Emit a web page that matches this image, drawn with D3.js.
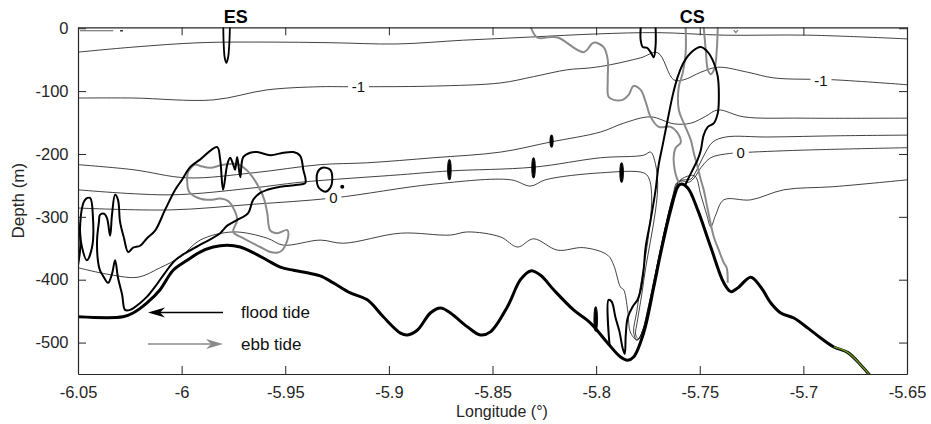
<!DOCTYPE html>
<html>
<head>
<meta charset="utf-8">
<script src="https://cdn.jsdelivr.net/npm/d3@7"></script>
<style>
  body { margin: 0; background: #fff; }
  svg { font-family: "Liberation Sans", Arial, Helvetica, sans-serif; }
</style>
</head>
<body>
<svg id="chart" width="931" height="424"></svg>
<script>
// ---- Axis ticks ----
const xTicks = [-6.05, -6, -5.95, -5.9, -5.85, -5.8, -5.75, -5.7, -5.65];
const xTickLabels = ["-6.05", "-6", "-5.95", "-5.9", "-5.85", "-5.8", "-5.75", "-5.7", "-5.65"];
const yTicks = [0, -100, -200, -300, -400, -500];
const yTickLabels = ["0", "-100", "-200", "-300", "-400", "-500"];

// ---- Sill names (longitude of each sill) ----
const sills = [
  { name: "ES", lon: -5.9739 },
  { name: "CS", lon: -5.7536 }
];

// ---- Bottom profile [lon, depth m] ----
const bathymetry = [
  [-6.0500,-459],[-6.0283,-459],[-6.0234,-453],[-6.0167,-437],[-6.0104,-416],[-6.0041,-385],
  [-5.9973,-369],[-5.9911,-356],[-5.9848,-348],[-5.9780,-345],[-5.9717,-348],[-5.9655,-357],
  [-5.9587,-369],[-5.9524,-380],[-5.9461,-385],[-5.9394,-389],[-5.9331,-394],[-5.9268,-405],
  [-5.9186,-421],[-5.9104,-432],[-5.9027,-459],[-5.8944,-485],[-5.8911,-488],[-5.8862,-480],
  [-5.8800,-453],[-5.8751,-445],[-5.8703,-453],[-5.8621,-475],[-5.8558,-488],[-5.8510,-483],
  [-5.8428,-443],[-5.8365,-400],[-5.8316,-386],[-5.8268,-393],[-5.8205,-416],[-5.8109,-448],
  [-5.8027,-469],[-5.7944,-501],[-5.7882,-523],[-5.7848,-528],[-5.7819,-523],[-5.7771,-485],
  [-5.7722,-412],[-5.7688,-357],[-5.7640,-289],[-5.7606,-252],[-5.7592,-248],[-5.7558,-254],
  [-5.7510,-289],[-5.7447,-348],[-5.7384,-405],[-5.7350,-419],[-5.7316,-413],[-5.7254,-396],
  [-5.7205,-412],[-5.7157,-437],[-5.7109,-453],[-5.7046,-461],[-5.6978,-477],[-5.6915,-493],
  [-5.6853,-507],[-5.6785,-516],[-5.6722,-536],[-5.6669,-556]
];
const greenFromLon = -5.6853;

// ---- Thin isolines [lon, depth] ----
const isoTop = [
  [-6.0500,-38],[-6.0234,-30],[-5.9911,-23],[-5.9587,-22],[-5.9283,-23],[-5.8959,-25],
  [-5.8640,-19],[-5.8316,-14],[-5.7993,-9],[-5.7703,-7],[-5.7384,-11],[-5.6978,-11],[-5.6495,-17]
];
const isoMinus1 = [
  [-6.0500,-111],[-6.0234,-111],[-5.9848,-114],[-5.9587,-98],[-5.9331,-93],[-5.9220,-93],
  [-5.9075,-93],[-5.8785,-92],[-5.8461,-87],[-5.8302,-77],[-5.8138,-66],[-5.8027,-63],
  [-5.7930,-58],[-5.7785,-47],[-5.7703,-39],[-5.7626,-82],[-5.7577,-82],[-5.7495,-70],
  [-5.7413,-62],[-5.7268,-70],[-5.7143,-79],[-5.6853,-82],[-5.6495,-90]
];
const isoC = [
  [-6.0500,-217],[-6.0234,-225],[-5.9973,-238],[-5.9655,-230],[-5.9331,-217],[-5.9104,-214],
  [-5.8785,-206],[-5.8461,-197],[-5.8220,-181],[-5.7978,-165],[-5.7867,-151],[-5.7737,-141],
  [-5.7626,-152],[-5.7543,-151],[-5.7471,-140],[-5.7413,-130],[-5.7287,-141],[-5.7012,-143],
  [-5.6495,-143]
];
const isoD = [
  [-6.0500,-257],[-6.0056,-265],[-5.9655,-254],[-5.9428,-245],[-5.8944,-233],[-5.8708,-227],
  [-5.8302,-221],[-5.7978,-206],[-5.7771,-202],[-5.7737,-197],[-5.7713,-217],[-5.7703,-249],
  [-5.7713,-289],[-5.7737,-337],[-5.7761,-381],[-5.7780,-424],[-5.7800,-464],[-5.7809,-488],
  [-5.7795,-494],[-5.7771,-477],[-5.7741,-440],[-5.7713,-392],[-5.7684,-345],[-5.7650,-294],
  [-5.7621,-260],[-5.7597,-243],[-5.7572,-241],[-5.7543,-240],[-5.7514,-225],[-5.7481,-203],
  [-5.7437,-181],[-5.7374,-173],[-5.7171,-173],[-5.6819,-171],[-5.6495,-170]
];
const isoZero = [
  [-6.0500,-286],[-6.0056,-289],[-5.9655,-280],[-5.9268,-270],[-5.8785,-248],[-5.8413,-241],
  [-5.8316,-251],[-5.8244,-241],[-5.7978,-230],[-5.7771,-230],[-5.7746,-238],[-5.7732,-265],
  [-5.7741,-313],[-5.7761,-361],[-5.7785,-408],[-5.7804,-451],[-5.7819,-483],[-5.7804,-496],
  [-5.7780,-485],[-5.7751,-448],[-5.7722,-404],[-5.7693,-356],[-5.7659,-305],[-5.7630,-267],
  [-5.7611,-246],[-5.7582,-243],[-5.7553,-245],[-5.7524,-237],[-5.7495,-222],[-5.7447,-206],
  [-5.7374,-200],[-5.7302,-198],[-5.7012,-194],[-5.6495,-190]
];
const isoDeep = [
  [-6.0500,-381],[-6.0345,-392],[-6.0210,-396],[-6.0104,-381],[-6.0007,-364],[-5.9911,-337],
  [-5.9751,-324],[-5.9587,-334],[-5.9510,-345],[-5.9331,-337],[-5.9220,-342],[-5.8944,-326],
  [-5.8703,-329],[-5.8621,-324],[-5.8461,-332],[-5.8379,-348],[-5.8302,-335],[-5.8186,-353],
  [-5.8060,-349],[-5.7944,-361],[-5.7915,-377],[-5.7882,-412],[-5.7867,-416],[-5.7848,-448],
  [-5.7833,-485],[-5.7800,-496],[-5.7775,-480],[-5.7746,-440],[-5.7717,-394],[-5.7688,-349],
  [-5.7659,-306],[-5.7630,-268],[-5.7606,-246],[-5.7572,-237],[-5.7524,-235],[-5.7495,-265],
  [-5.7466,-297],[-5.7447,-316],[-5.7423,-297],[-5.7384,-273],[-5.7254,-273],[-5.7094,-257],
  [-5.6853,-252],[-5.6495,-241]
];
const surfaceDash = [[-6.0490,-4],[-6.0330,-4]];
const surfaceDot = [[-6.0297,-4],[-6.0283,-4]];

// ---- Isoline labels ----
const isoLabels = [
  { text: "-1", lon: -5.9147, depth: -93 },
  { text: "-1", lon: -5.6915, depth: -84 },
  { text: "0",  lon: -5.9268, depth: -270 },
  { text: "0",  lon: -5.7302, depth: -198 }
];

// ---- Flood tide contours [lon, depth] ----
const floodES = [
  [-6.0200,-437],[-6.0249,-448],[-6.0273,-448],[-6.0287,-424],[-6.0307,-397],[-6.0321,-369],
  [-6.0336,-391],[-6.0355,-405],[-6.0379,-394],[-6.0394,-385],[-6.0403,-372],[-6.0408,-337],
  [-6.0399,-308],[-6.0394,-297],[-6.0374,-295],[-6.0360,-302],[-6.0345,-330],[-6.0336,-297],
  [-6.0321,-265],[-6.0307,-273],[-6.0297,-308],[-6.0278,-334],[-6.0258,-356],[-6.0234,-349],
  [-6.0200,-346],[-6.0167,-334],[-6.0128,-322],[-6.0080,-289],[-6.0031,-257],[-5.9998,-241],
  [-5.9959,-221],[-5.9911,-209],[-5.9829,-189],[-5.9814,-209],[-5.9800,-257],[-5.9780,-217],
  [-5.9766,-206],[-5.9751,-217],[-5.9742,-225],[-5.9732,-205],[-5.9717,-237],[-5.9703,-205],
  [-5.9669,-198],[-5.9635,-197],[-5.9572,-202],[-5.9510,-198],[-5.9461,-197],[-5.9428,-203],
  [-5.9413,-225],[-5.9403,-246],[-5.9442,-249],[-5.9524,-252],[-5.9587,-257],[-5.9621,-262],
  [-5.9655,-273],[-5.9679,-294],[-5.9732,-305],[-5.9780,-314],[-5.9814,-326],[-5.9896,-342],
  [-5.9973,-356],[-6.0031,-369],[-6.0080,-389],[-6.0128,-411],[-6.0167,-427]
];
const floodWestLoop = [
  [-6.0490,-316],[-6.0466,-273],[-6.0442,-270],[-6.0428,-300],[-6.0432,-348],[-6.0457,-369],
  [-6.0481,-348]
];
const floodWestEdge = [[-6.0500,-308],[-6.0490,-329],[-6.0490,-353],[-6.0500,-377]];
const floodBlob = [
  [-5.9345,-230],[-5.9321,-222],[-5.9283,-225],[-5.9273,-241],[-5.9283,-254],[-5.9307,-260],
  [-5.9341,-252]
];
const floodDot = [-5.9225, -252];
// U-shaped cell hanging from the surface above ES
const floodESTop = [
  [-5.9799,2],[-5.9797,-25],[-5.9792,-47],[-5.9784,-55],[-5.9776,-47],[-5.9770,-25],[-5.9767,2]
];
const floodCSTop = [
  [-5.7785,2],[-5.7785,-19],[-5.7775,-30],[-5.7756,-31],[-5.7737,-38],[-5.7722,-46],
  [-5.7713,-27],[-5.7713,2]
];
const floodCS = [
  [-5.7935,-505],[-5.7940,-432],[-5.7925,-435],[-5.7906,-461],[-5.7887,-483],[-5.7872,-509],
  [-5.7862,-518],[-5.7857,-488],[-5.7848,-461],[-5.7824,-443],[-5.7800,-432],[-5.7785,-416],
  [-5.7771,-385],[-5.7761,-348],[-5.7737,-305],[-5.7713,-257],[-5.7698,-217],[-5.7679,-186],
  [-5.7655,-146],[-5.7630,-106],[-5.7606,-77],[-5.7577,-54],[-5.7543,-39],[-5.7495,-30],
  [-5.7461,-38],[-5.7432,-55],[-5.7413,-77],[-5.7408,-114],[-5.7413,-135],[-5.7432,-151],
  [-5.7461,-157],[-5.7481,-170],[-5.7495,-194],[-5.7510,-209],[-5.7534,-225],[-5.7558,-241],
  [-5.7572,-251]
];
// narrow closed cells: centre lon, upper depth, lower depth, half width (deg)
const floodCells = [
  { lon: -5.8708, upper: -209, lower: -241, half: 0.0008 },
  { lon: -5.8302, upper: -206, lower: -238, half: 0.0008 },
  { lon: -5.8215, upper: -170, lower: -189, half: 0.0007 },
  { lon: -5.7877, upper: -214, lower: -245, half: 0.0008 },
  { lon: -5.8002, upper: -443, lower: -482, half: 0.0008 }
];

// ---- Ebb tide contours [lon, depth] ----
const ebbES = [
  [-5.9935,-217],[-5.9969,-229],[-5.9973,-245],[-5.9964,-260],[-5.9920,-270],[-5.9862,-273],
  [-5.9814,-271],[-5.9775,-275],[-5.9746,-289],[-5.9732,-305],[-5.9751,-324],[-5.9703,-334],
  [-5.9621,-348],[-5.9572,-356],[-5.9539,-357],[-5.9514,-353],[-5.9486,-332],[-5.9490,-321],
  [-5.9539,-326],[-5.9572,-322],[-5.9587,-294],[-5.9601,-273],[-5.9621,-257],[-5.9655,-238],
  [-5.9688,-225],[-5.9732,-216],[-5.9800,-217],[-5.9862,-222],[-5.9911,-219]
];
const ebbCSWest = [
  [-5.8316,2],[-5.8283,-15],[-5.8220,-14],[-5.8181,-15],[-5.8060,-38],[-5.8012,-23],
  [-5.7964,-30],[-5.7944,-50],[-5.7944,-82],[-5.7940,-109],[-5.7915,-114],[-5.7872,-114],
  [-5.7843,-106],[-5.7819,-92],[-5.7785,-98],[-5.7761,-117],[-5.7737,-141],[-5.7698,-157],
  [-5.7640,-157],[-5.7601,-170],[-5.7592,-182],[-5.7616,-190],[-5.7626,-206],[-5.7621,-225],
  [-5.7611,-238],[-5.7597,-248]
];
const ebbCSEast = [
  [-5.7568,2],[-5.7568,-39],[-5.7582,-71],[-5.7601,-93],[-5.7601,-130],[-5.7577,-151],
  [-5.7543,-178],[-5.7529,-198],[-5.7510,-221],[-5.7495,-241],[-5.7481,-257],[-5.7461,-289],
  [-5.7432,-332],[-5.7408,-353],[-5.7384,-373],[-5.7370,-381],[-5.7365,-405]
];
const ebbCSLoop = [
  [-5.7481,2],[-5.7471,-35],[-5.7461,-66],[-5.7447,-73],[-5.7428,-63],[-5.7418,-35],[-5.7413,2]
];
const ebbCSNotch = [[-5.7336,-3],[-5.7326,-7],[-5.7316,-3]];

// ---- Legend entries ----
const legendItems = [
  { label: "flood tide", color: "#000000", pointsWest: true },
  { label: "ebb tide",   color: "#8a8a8a", pointsWest: false }
];

// ================= drawing =================
const plotLeft = 78, plotRight = 907, plotTop = 27.3, plotBottom = 374;
const svg = d3.select("#chart");

const x = d3.scaleLinear().domain([-6.05, -5.65]).range([plotLeft, plotRight]);
const y = d3.scaleLinear().domain([-550, 1.5]).range([plotBottom, plotTop]);

svg.append("defs").append("clipPath").attr("id", "plotClip")
  .append("rect").attr("x", plotLeft).attr("y", plotTop)
  .attr("width", plotRight - plotLeft).attr("height", plotBottom - plotTop);

const plot = svg.append("g").attr("clip-path", "url(#plotClip)");

const smooth = d3.line().x(d => x(d[0])).y(d => y(d[1]))
  .curve(d3.curveCatmullRom.alpha(0.5));
const smoothClosed = d3.line().x(d => x(d[0])).y(d => y(d[1]))
  .curve(d3.curveCatmullRomClosed.alpha(0.5));
const straight = d3.line().x(d => x(d[0])).y(d => y(d[1]));

// thin isolines
const thin = plot.append("g").attr("fill", "none").attr("stroke", "#111").attr("stroke-width", 0.8);
[isoTop, isoMinus1, isoC, isoD, isoZero, isoDeep].forEach(p =>
  thin.append("path").attr("d", smooth(p)));
thin.append("path").attr("d", straight(surfaceDash)).attr("stroke", "#333");
thin.append("path").attr("d", straight(surfaceDot)).attr("stroke", "#333").attr("stroke-width", 1.4);

// isoline labels with a gap in the line
const labG = plot.append("g");
isoLabels.forEach(l => {
  const cx = x(l.lon), cy = y(l.depth);
  const w = l.text.length === 1 ? 10 : 15;
  labG.append("rect").attr("x", cx - w / 2 - 3).attr("y", cy - 7)
    .attr("width", w + 6).attr("height", 14).attr("fill", "#fff");
  labG.append("text").attr("x", cx).attr("y", cy).attr("dy", "0.36em")
    .attr("text-anchor", "middle").attr("font-size", 15).attr("fill", "#111")
    .text(l.text);
});

// ebb tide contours (grey)
const ebb = plot.append("g").attr("fill", "none").attr("stroke", "#8a8a8a")
  .attr("stroke-width", 2).attr("stroke-linejoin", "round");
ebb.append("path").attr("d", smoothClosed(ebbES));
[ebbCSWest, ebbCSEast, ebbCSLoop].forEach(p => ebb.append("path").attr("d", smooth(p)));
ebb.append("path").attr("d", straight(ebbCSNotch)).attr("stroke-width", 1.5);

// flood tide contours (black)
const flood = plot.append("g").attr("fill", "none").attr("stroke", "#000")
  .attr("stroke-width", 2).attr("stroke-linejoin", "round");
flood.append("path").attr("d", smoothClosed(floodES));
flood.append("path").attr("d", smoothClosed(floodWestLoop));
flood.append("path").attr("d", smoothClosed(floodBlob));
flood.append("path").attr("d", smooth(floodWestEdge));
flood.append("path").attr("d", smooth(floodESTop)).attr("stroke-width", 1.8);
flood.append("path").attr("d", smooth(floodCSTop));
flood.append("path").attr("d", smooth(floodCS));
flood.selectAll("ellipse.cell").data(floodCells).join("ellipse")
  .attr("class", "cell")
  .attr("cx", d => x(d.lon))
  .attr("cy", d => (y(d.upper) + y(d.lower)) / 2)
  .attr("rx", d => x(d.lon + d.half) - x(d.lon))
  .attr("ry", d => Math.abs(y(d.lower) - y(d.upper)) / 2)
  .attr("fill", "#000").attr("stroke-width", 1.2);
plot.append("circle").attr("cx", x(floodDot[0])).attr("cy", y(floodDot[1]))
  .attr("r", 2).attr("fill", "#000");

// bottom profile
plot.append("path").attr("d", smooth(bathymetry))
  .attr("fill", "none").attr("stroke", "#000").attr("stroke-width", 3)
  .attr("stroke-linejoin", "round");
plot.append("path").attr("d", smooth(bathymetry.filter(d => d[0] >= greenFromLon)))
  .attr("fill", "none").attr("stroke", "#6b9a22").attr("stroke-width", 1.3);

// ---- axes (box with inward ticks) ----
const axisColor = "#262626";
function styleAxis(g) {
  g.select(".domain").attr("stroke", axisColor).attr("stroke-width", 1.2);
  g.selectAll(".tick line").attr("stroke", axisColor).attr("stroke-width", 1);
  g.selectAll(".tick text").attr("fill", "#262626").attr("font-size", 16.5)
    .attr("font-family", "Liberation Sans, Arial, sans-serif");
}
svg.append("g").attr("transform", `translate(0,${plotBottom})`)
  .call(d3.axisBottom(x).tickValues(xTicks).tickFormat((d, i) => xTickLabels[i])
    .tickSizeInner(-8).tickSizeOuter(0).tickPadding(12))
  .call(styleAxis)
  .call(g => g.selectAll(".tick text").attr("dy", "0.71em"));
svg.append("g").attr("transform", `translate(0,${plotTop})`)
  .call(d3.axisTop(x).tickValues(xTicks).tickFormat("")
    .tickSizeInner(-8).tickSizeOuter(0))
  .call(styleAxis);
svg.append("g").attr("transform", `translate(${plotLeft},0)`)
  .call(d3.axisLeft(y).tickValues(yTicks).tickFormat((d, i) => yTickLabels[i])
    .tickSizeInner(-8).tickSizeOuter(0).tickPadding(9.5))
  .call(styleAxis);
svg.append("g").attr("transform", `translate(${plotRight},0)`)
  .call(d3.axisRight(y).tickValues(yTicks).tickFormat("")
    .tickSizeInner(-8).tickSizeOuter(0))
  .call(styleAxis);

// axis titles
svg.append("text").attr("x", 502).attr("y", 417).attr("text-anchor", "middle")
  .attr("font-size", 16).attr("fill", "#262626").text("Longitude (°)");
svg.append("text").attr("transform", `translate(24,${(plotTop + plotBottom) / 2}) rotate(-90)`)
  .attr("text-anchor", "middle").attr("font-size", 17).attr("fill", "#262626")
  .text("Depth (m)");

// sill names above the frame
svg.selectAll("text.sill").data(sills).join("text").attr("class", "sill")
  .attr("x", d => x(d.lon)).attr("y", 23).attr("text-anchor", "middle")
  .attr("font-size", 18).attr("font-weight", "bold").attr("fill", "#000")
  .text(d => d.name);

// ---- legend ----
const legend = svg.append("g");
legendItems.forEach((it, i) => {
  const ly = 312.5 + i * 31.5;
  const x0 = 148, x1 = 223;
  const g = legend.append("g");
  if (it.pointsWest) {
    g.append("line").attr("x1", x0 + 10).attr("x2", x1).attr("y1", ly).attr("y2", ly)
      .attr("stroke", it.color).attr("stroke-width", 1.3);
    g.append("path")
      .attr("d", `M${x0},${ly} L${x0 + 17},${ly - 5} L${x0 + 12},${ly} L${x0 + 17},${ly + 5} Z`)
      .attr("fill", it.color);
  } else {
    g.append("line").attr("x1", x0).attr("x2", x1 - 10).attr("y1", ly).attr("y2", ly)
      .attr("stroke", it.color).attr("stroke-width", 1.3);
    g.append("path")
      .attr("d", `M${x1},${ly} L${x1 - 17},${ly - 5} L${x1 - 12},${ly} L${x1 - 17},${ly + 5} Z`)
      .attr("fill", it.color);
  }
  g.append("text").attr("x", 241).attr("y", ly + 5.5)
    .attr("font-size", 17).attr("fill", "#111").text(it.label);
});
</script>
</body>
</html>
